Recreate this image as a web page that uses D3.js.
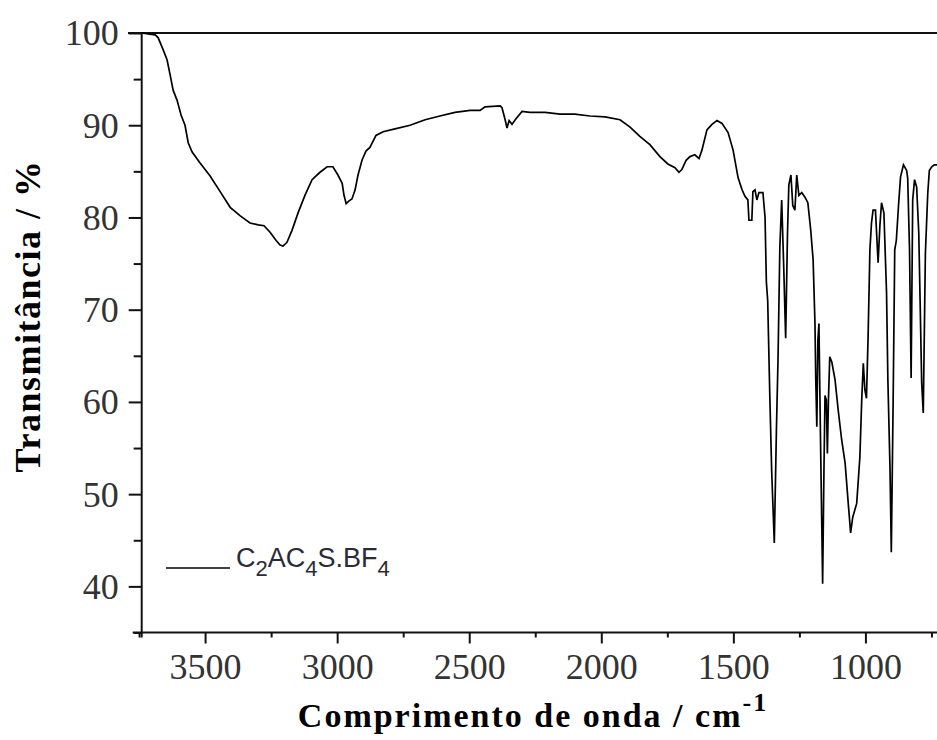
<!DOCTYPE html>
<html>
<head>
<meta charset="utf-8">
<script src="https://cdn.jsdelivr.net/npm/d3@7"></script>
<style>
  body { margin: 0; background: #fff; }
  svg { display: block; }
  .serif { font-family: 'Liberation Serif', 'Times New Roman', serif; }
</style>
</head>
<body>
<svg id="irChart" width="937" height="740"></svg>
<script>
// spectrum (cm-1, %T)
const wavenumbers = [3740,3716,3689,3678,3659,3644,3632,3621,3606,3591,
  3576,3564,3549,3519,3481,3443,3405,3368,3330,3299,
  3277,3254,3231,3216,3205,3190,3171,3148,3122,3095,
  3065,3038,3016,2997,2981,2974,2966,2955,2944,2932,
  2921,2906,2891,2876,2853,2826,2781,2724,2667,2611,
  2554,2497,2459,2440,2383,2376,2364,2357,2349,2338,
  2323,2300,2270,2213,2156,2100,2043,1986,1929,1891,
  1854,1816,1778,1748,1721,1706,1695,1679,1664,1646,
  1630,1619,1600,1581,1562,1543,1520,1501,1482,1467,
  1456,1445,1441,1430,1426,1418,1411,1403,1388,1380,
  1375,1370,1362,1355,1345,1337,1331,1324,1317,1309,
  1302,1295,1290,1282,1275,1267,1260,1252,1241,1229,
  1218,1207,1198,1191,1188,1184,1180,1176,1170,1162,
  1157,1153,1148,1144,1140,1135,1127,1115,1103,1090,
  1077,1065,1056,1048,1033,1021,1014,1008,1002,996,
  990,983,977,971,962,952,945,939,930,920,
  915,907,902,895,889,883,874,867,856,844,
  840,833,827,821,814,806,798,793,787,781,
  773,764,758,749,739,729];

const transmittance = [100.0,99.9,99.8,99.5,98.2,97.1,95.4,93.8,92.7,91.1,
  90.0,88.1,87.1,85.9,84.5,82.8,81.1,80.2,79.4,79.2,
  79.1,78.4,77.5,77.0,76.9,77.3,78.6,80.5,82.4,84.1,
  84.9,85.5,85.5,84.6,83.7,82.4,81.5,81.8,82.0,83.0,
  84.6,86.2,87.2,87.6,88.9,89.3,89.6,90.0,90.6,91.0,
  91.4,91.6,91.6,92.0,92.1,91.9,90.6,89.7,90.5,90.1,
  90.7,91.5,91.4,91.4,91.2,91.2,91.0,90.9,90.6,89.8,
  88.8,87.9,86.6,85.8,85.4,84.9,85.2,86.2,86.6,86.8,
  86.4,87.3,89.5,90.1,90.5,90.2,89.2,87.3,84.3,83.0,
  82.3,81.9,79.7,79.7,82.8,83.0,81.9,82.7,82.7,80.0,
  73.0,71.0,60.7,52.6,44.7,56.9,64.5,76.7,81.9,74.3,
  66.9,78.3,83.5,84.6,81.3,80.8,84.6,82.4,82.7,82.2,
  81.6,78.6,75.4,68.5,62.4,57.3,66.7,68.5,55.9,40.3,
  52.6,60.7,60.2,54.4,60.2,64.9,64.3,62.4,59.1,55.9,
  53.4,49.0,45.8,47.5,49.0,54.0,60.2,64.2,61.3,60.4,
  66.9,76.5,79.4,80.8,80.8,75.1,79.2,81.6,80.5,71.8,
  62.4,52.9,43.7,60.2,76.5,77.5,81.6,84.4,85.7,85.1,
  84.3,76.5,62.6,81.9,84.1,83.3,78.3,71.0,62.1,58.8,
  76.1,82.6,85.1,85.5,85.7,85.7];

const xMajorTicks = [3500, 3000, 2500, 2000, 1500, 1000];
const xMinorTicks = [3750, 3250, 2750, 2250, 1750, 1250, 750];
const yMajorTicks = [40, 50, 60, 70, 80, 90, 100];
const yMinorTicks = [35, 45, 55, 65, 75, 85, 95];
const seriesName = 'C2AC4S.BF4';

const svg = d3.select('#irChart');
const width = +svg.attr('width');
const height = +svg.attr('height');
const plot = { left: 141.7, right: 937, top: 33, bottom: 632.5 };

svg.append('rect').attr('width', width).attr('height', height).attr('fill', '#fff');

const xScale = d3.scaleLinear().domain([3740, 729]).range([plot.left, plot.right]);
const yScale = d3.scaleLinear().domain([35, 100]).range([plot.bottom, plot.top]);

const data = wavenumbers.map((w, i) => ({ w: w, t: transmittance[i] }));

svg.append('clipPath').attr('id', 'plotClip')
  .append('rect')
  .attr('x', plot.left).attr('y', plot.top - 2)
  .attr('width', plot.right - plot.left).attr('height', plot.bottom - plot.top + 2);

// top frame line
svg.append('line')
  .attr('x1', 128).attr('x2', plot.right)
  .attr('y1', plot.top).attr('y2', plot.top)
  .attr('stroke', '#111').attr('stroke-width', 2);

// x axis
const xAxis = svg.append('g').attr('transform', `translate(0,${plot.bottom})`);
xAxis.call(d3.axisBottom(xScale).tickValues(xMajorTicks).tickFormat(d3.format('d'))
  .tickSize(11).tickSizeOuter(0).tickPadding(10));
xAxis.append('g').call(d3.axisBottom(xScale).tickValues(xMinorTicks).tickSize(5).tickFormat(''))
  .select('.domain').remove();
xAxis.select('.domain').attr('d', `M${plot.left - 9},0H${plot.right}`);

// y axis
const yAxis = svg.append('g').attr('transform', `translate(${plot.left},0)`);
yAxis.call(d3.axisLeft(yScale).tickValues(yMajorTicks).tickFormat(d3.format('d'))
  .tickSize(13).tickSizeOuter(0).tickPadding(10));
yAxis.append('g').call(d3.axisLeft(yScale).tickValues(yMinorTicks).tickSize(8).tickFormat(''))
  .select('.domain').remove();
yAxis.select('.domain').attr('d', `M0,${plot.top}V${plot.bottom + 5}`);

svg.selectAll('.domain, .tick line').attr('stroke', '#111').attr('stroke-width', 2);
svg.selectAll('.tick text')
  .attr('class', 'serif')
  .attr('font-family', null)
  .attr('font-size', 36)
  .attr('fill', '#333');
xAxis.attr('font-family', null);
yAxis.attr('font-family', null);
yAxis.selectAll('.tick text').attr('dy', '0.33em');
xAxis.selectAll('.tick text').attr('dy', '0.71em');

// spectrum
const line = d3.line()
  .x(d => xScale(d.w))
  .y(d => yScale(d.t));

svg.append('path')
  .datum(data)
  .attr('clip-path', 'url(#plotClip)')
  .attr('fill', 'none')
  .attr('stroke', '#000')
  .attr('stroke-width', 1.7)
  .attr('stroke-linejoin', 'miter')
  .attr('d', line);

// axis titles
svg.append('text')
  .attr('class', 'serif')
  .attr('transform', 'translate(40,316) rotate(-90)')
  .attr('text-anchor', 'middle')
  .attr('font-weight', 'bold')
  .attr('font-size', 36)
  .attr('letter-spacing', 1.5)
  .text('Transmitância / %');

const xTitle = svg.append('text')
  .attr('class', 'serif')
  .attr('x', 533)
  .attr('y', 727)
  .attr('text-anchor', 'middle')
  .attr('font-weight', 'bold')
  .attr('font-size', 34)
  .attr('letter-spacing', 2);
xTitle.append('tspan').text('Comprimento de onda / cm');
xTitle.append('tspan').attr('dy', -16).attr('font-size', 26).text('-1');

// legend
svg.append('line')
  .attr('x1', 166).attr('x2', 230)
  .attr('y1', 568).attr('y2', 568)
  .attr('stroke', '#000').attr('stroke-width', 1.7);

const legendText = svg.append('text')
  .attr('x', 236).attr('y', 576)
  .attr('font-family', '"Liberation Sans", Arial, sans-serif')
  .attr('font-size', 27)
  .attr('fill', '#2b2b38');
seriesName.match(/[A-Za-z.]+|\d+/g).forEach(part => {
  if (/^\d+$/.test(part)) {
    legendText.append('tspan').attr('dy', 9).attr('font-size', 22).text(part);
  } else {
    legendText.append('tspan').attr('dy', legendText.selectAll('tspan').size() ? -9 : 0).text(part);
  }
});
</script>
</body>
</html>
